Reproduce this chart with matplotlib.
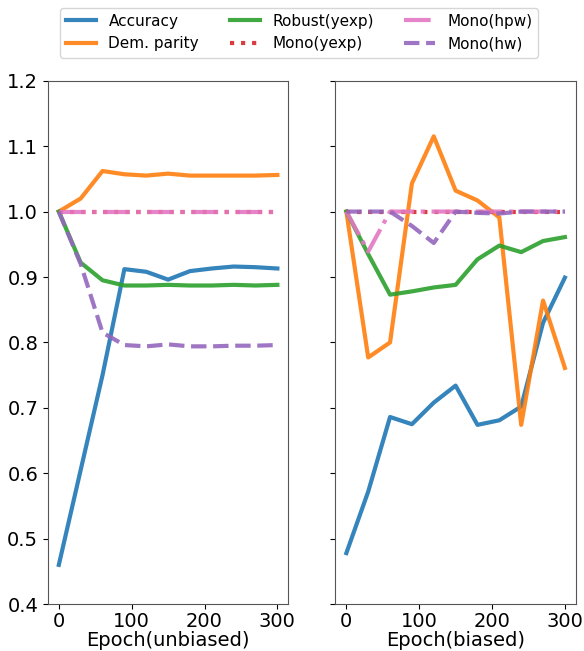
import matplotlib
matplotlib.use("Agg")
import matplotlib.pyplot as plt
import numpy as np

epochs = [0, 30, 60, 90, 120, 150, 180, 210, 240, 270, 300]

# unbiased run
acc_u = [0.46, 0.605, 0.75, 0.912, 0.908, 0.896, 0.909, 0.913, 0.916, 0.915, 0.913]
dp_u = [1.0, 1.02, 1.062, 1.057, 1.055, 1.058, 1.055, 1.055, 1.055, 1.055, 1.056]
rob_u = [1.0, 0.922, 0.895, 0.887, 0.887, 0.888, 0.887, 0.887, 0.888, 0.887, 0.888]
yexp_u = [1.0] * 11
hpw_u = [1.0] * 11
hw_u = [1.0, 0.92, 0.815, 0.796, 0.794, 0.797, 0.794, 0.794, 0.795, 0.795, 0.796]

# biased run
acc_b = [0.478, 0.572, 0.686, 0.675, 0.708, 0.734, 0.674, 0.681, 0.702, 0.83, 0.899]
dp_b = [1.0, 0.777, 0.8, 1.043, 1.115, 1.032, 1.017, 0.991, 0.674, 0.864, 0.761]
rob_b = [1.0, 0.935, 0.873, 0.878, 0.884, 0.888, 0.927, 0.948, 0.938, 0.955, 0.961]
yexp_b = [1.0] * 11
hpw_b = [1.0, 0.939, 1.0, 1.0, 1.0, 1.0, 1.0, 1.0, 1.0, 1.0, 1.0]
hw_b = [1.0, 1.0, 1.0, 0.978, 0.952, 1.0, 0.998, 0.997, 1.0, 1.0, 1.0]

labels = ["Accuracy", "Dem. parity", "Robust(yexp)", "Mono(yexp)", "Mono(hpw)", "Mono(hw)"]
colors = ["tab:blue", "tab:orange", "tab:green", "tab:red", "tab:pink", "tab:purple"]
styles = ["-", "-", "-", ":", "-.", "--"]

fig, axes = plt.subplots(1, 2, figsize=(5.84, 6.51), dpi=100, sharey=True)
fig.subplots_adjust(left=0.082, right=0.986, top=0.876, bottom=0.072, wspace=0.196)

runs = [
    [acc_u, dp_u, rob_u, yexp_u, hpw_u, hw_u],
    [acc_b, dp_b, rob_b, yexp_b, hpw_b, hw_b],
]
xlabels = ["Epoch(unbiased)", "Epoch(biased)"]

for ax, series, xl in zip(axes, runs, xlabels):
    for y, lab, c, ls in zip(series, labels, colors, styles):
        ax.plot(epochs, y, ls, color=c, lw=3, alpha=0.9, label=lab)
    ax.set_xlabel(xl, fontsize=14, labelpad=0)
    ax.set_ylim(0.4, 1.2)
    ax.set_xticks([0, 100, 200, 300])
    ax.tick_params(labelsize=14)
    ax.tick_params(axis="x", pad=2.5)
    for s in ax.spines.values():
        s.set_color("#555555")

handles, labs = axes[0].get_legend_handles_labels()
fig.legend(handles, labs, loc="upper center", bbox_to_anchor=(0.512, 1.0), ncol=3, fontsize=11)

plt.savefig("out.png", dpi=100)
